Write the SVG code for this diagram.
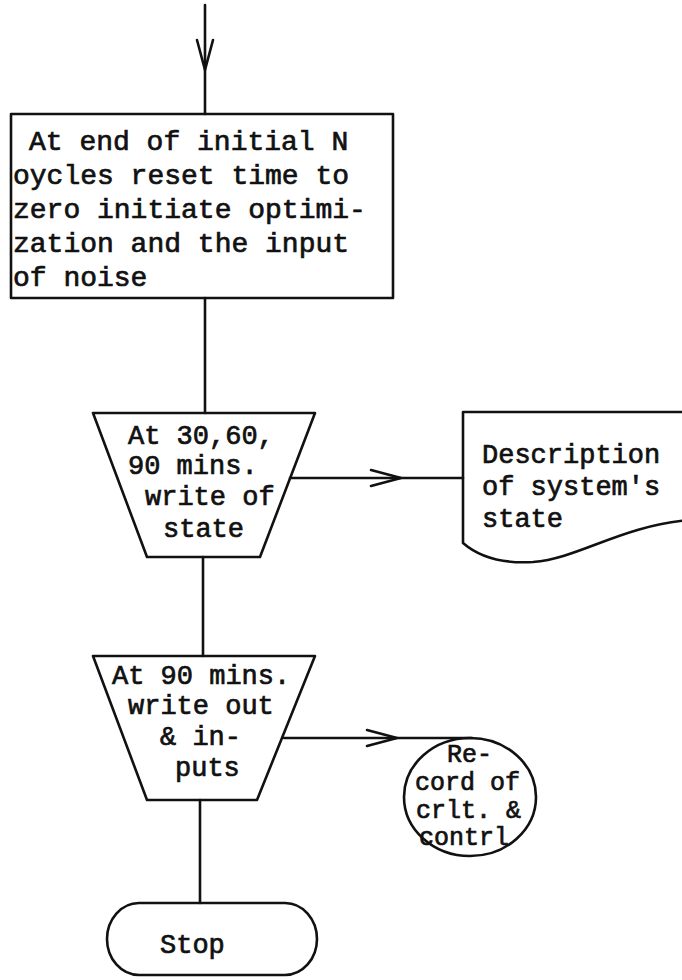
<svg xmlns="http://www.w3.org/2000/svg" width="682" height="980" viewBox="0 0 682 980">
<style>
.s{fill:none;stroke:#111;stroke-width:2.6;stroke-linejoin:round;stroke-linecap:round}
.t{font-family:"Liberation Mono","Courier New",monospace;font-size:27px;font-weight:normal;fill:#111;stroke:#111;stroke-width:0.7}
.t28{font-size:28px}
.c{font-size:25px}
</style>
<defs>
<marker id="v" viewBox="-32 -12 36 24" refX="0" refY="0" markerWidth="36" markerHeight="24" markerUnits="userSpaceOnUse" orient="auto">
<path d="M-30,-8 L0,0 L-30,8" fill="none" stroke="#111" stroke-width="2.6" stroke-linecap="round" stroke-linejoin="round"/>
</marker>
</defs>
<rect width="682" height="980" fill="#fff"/>
<g id="connectors">
<path class="s" d="M205,5 L205,70 L205,114" marker-mid="url(#v)"/>
<path class="s" d="M205,298 L205,413"/>
<path class="s" d="M290,478 L401,478 L463,478" marker-mid="url(#v)"/>
<path class="s" d="M203,557 L203,656"/>
<path class="s" d="M284,738 L397,738 L472,738" marker-mid="url(#v)"/>
<path class="s" d="M200,800 L200,903"/>
</g>
<g id="box1">
<rect class="s" x="11" y="114" width="382" height="184"/>
<text class="t t28" x="29" y="150">At end of initial N</text>
<text class="t t28" x="13" y="184">oycles reset time to</text>
<text class="t t28" x="13" y="218">zero initiate optimi-</text>
<text class="t t28" x="13" y="252">zation and the input</text>
<text class="t t28" x="13" y="286">of noise</text>
</g>
<g id="out1">
<polygon class="s" points="93,413 315,413 260,557 147,557"/>
<text class="t" x="128" y="444">At 30,60,</text>
<text class="t" x="128" y="474">90 mins.</text>
<text class="t" x="145" y="505">write of</text>
<text class="t" x="163" y="537">state</text>
</g>
<g id="doc">
<path class="s" d="M690,412 L463,412 L463,543 C478,556 500,564 533,562 C580,558 620,526 690,520"/>
<text class="t" x="482" y="463">Description</text>
<text class="t" x="482" y="495">of system's</text>
<text class="t" x="482" y="527">state</text>
</g>
<g id="out2">
<polygon class="s" points="93,656 315,656 257,800 147,800"/>
<text class="t" x="112" y="684">At 90 mins.</text>
<text class="t" x="128" y="714">write out</text>
<text class="t" x="160" y="745">&amp; in-</text>
<text class="t" x="175" y="776">puts</text>
</g>
<g id="record">
<ellipse class="s" cx="470" cy="797" rx="66" ry="59"/>
<text class="t c" x="447" y="762">Re-</text>
<text class="t c" x="415" y="790">cord of</text>
<text class="t c" x="416" y="818">crlt. &amp;</text>
<text class="t c" x="419" y="845">contrl</text>
</g>
<g id="stop">
<rect class="s" x="107" y="903" width="210" height="72" rx="32" ry="36"/>
<text class="t" x="160" y="953">Stop</text>
</g>
</svg>
